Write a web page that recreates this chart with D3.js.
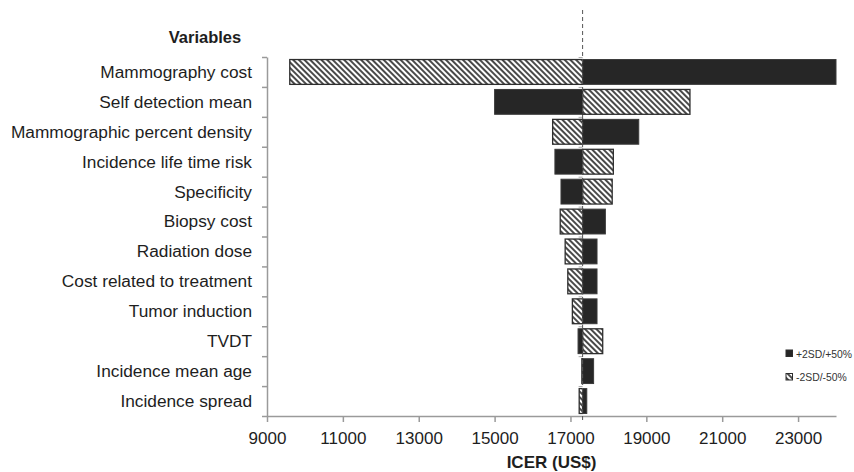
<!DOCTYPE html>
<html>
<head>
<meta charset="utf-8">
<script src="https://cdn.jsdelivr.net/npm/d3@7"></script>
<style>
  body { margin: 0; background: #fff; }
  svg { display: block; font-family: "Liberation Sans", Arial, sans-serif; }
</style>
</head>
<body>
<svg id="chart" width="854" height="472"></svg>
<script>
// Tornado chart data (ICER in US$)
const variables = [
  "Mammography cost", "Self detection mean", "Mammographic percent density",
  "Incidence life time risk", "Specificity", "Biopsy cost", "Radiation dose",
  "Cost related to treatment", "Tumor induction", "TVDT",
  "Incidence mean age", "Incidence spread"
];
const plusValues  = [24000, 15000, 18800, 16590, 16750, 17920, 17700, 17700, 17700, 17200, 17610, 17430];
const minusValues = [9600, 20150, 16530, 18130, 18100, 16730, 16860, 16930, 17050, 17850, 17300, 17230];
const baseIcer = 17320;
const xTicks = [9000, 11000, 13000, 15000, 17000, 19000, 21000, 23000];
const legendLabels = ["+2SD/+50%", "-2SD/-50%"];

const svg = d3.select("#chart");
const margin = { top: 57, right: 18, bottom: 56, left: 267 };
const width = 854, height = 472;

const x = d3.scaleLinear()
  .domain([9000, 24000])
  .range([margin.left, 836]);

const y = d3.scaleBand()
  .domain(variables)
  .range([margin.top, height - margin.bottom])
  .paddingInner(0.17)
  .paddingOuter(0.085);

// hatch pattern
const defs = svg.append("defs");
const pat = defs.append("pattern")
  .attr("id", "hatch")
  .attr("patternUnits", "userSpaceOnUse")
  .attr("width", 4)
  .attr("height", 4)
  .attr("patternTransform", "rotate(-45)");
pat.append("rect").attr("width", 4).attr("height", 4).attr("fill", "#fff");
pat.append("line")
  .attr("x1", 1).attr("y1", 0).attr("x2", 1).attr("y2", 4)
  .attr("stroke", "#4a4a4a").attr("stroke-width", 2);

// y axis with ticks on category boundaries
const yEdges = d3.scaleLinear().domain([0, variables.length]).range([margin.top, height - margin.bottom]);
const gY = svg.append("g")
  .attr("transform", `translate(${margin.left},0)`)
  .call(d3.axisLeft(yEdges).ticks(variables.length).tickSize(5).tickSizeOuter(0).tickFormat(""));
gY.selectAll("path, line").attr("stroke", "#9a9a9a").attr("stroke-width", 1.5);

// small ticks at the base value
const gBase = svg.append("g")
  .attr("transform", `translate(${x(baseIcer)},0)`)
  .call(d3.axisLeft(yEdges).ticks(variables.length).tickSize(4).tickSizeOuter(0).tickFormat(""));
gBase.select(".domain").remove();
gBase.selectAll("line").attr("stroke", "#aaa").attr("stroke-width", 1);

// category labels
svg.append("g")
  .selectAll("text")
  .data(variables)
  .join("text")
  .attr("x", 252)
  .attr("y", d => y(d) + y.bandwidth() / 2)
  .attr("dy", "0.34em")
  .attr("text-anchor", "end")
  .style("font-size", "17.3px")
  .style("fill", "#1e1e1e")
  .text(d => d);

svg.append("text")
  .attr("x", 205)
  .attr("y", 43)
  .attr("text-anchor", "middle")
  .style("font-size", "16.5px")
  .style("font-weight", "bold")
  .style("fill", "#1e1e1e")
  .text("Variables");

// bars
const rows = variables.map((v, i) => ({ name: v, plus: plusValues[i], minus: minusValues[i] }));

svg.append("g")
  .selectAll("rect")
  .data(rows)
  .join("rect")
  .attr("x", d => x(Math.min(baseIcer, d.minus)))
  .attr("y", d => y(d.name))
  .attr("width", d => Math.abs(x(d.minus) - x(baseIcer)))
  .attr("height", y.bandwidth())
  .attr("fill", "url(#hatch)")
  .attr("stroke", "#2e2e2e")
  .attr("stroke-width", 1.3);

svg.append("g")
  .selectAll("rect")
  .data(rows)
  .join("rect")
  .attr("x", d => x(Math.min(baseIcer, d.plus)))
  .attr("y", d => y(d.name))
  .attr("width", d => Math.abs(x(d.plus) - x(baseIcer)))
  .attr("height", y.bandwidth())
  .attr("fill", "#262626")
  .attr("stroke", "#3a3a3a")
  .attr("stroke-width", 1);

// x axis
const gX = svg.append("g")
  .attr("transform", `translate(0,${height - margin.bottom})`)
  .call(d3.axisBottom(x).tickValues(xTicks).tickSize(6).tickSizeOuter(0).tickPadding(10).tickFormat(d3.format("d")));
gX.selectAll("path, line").attr("stroke", "#9a9a9a").attr("stroke-width", 1.5);
gX.selectAll("text")
  .style("font-size", "17px")
  .style("fill", "#1e1e1e")
  .attr("font-family", null);

svg.append("text")
  .attr("x", (x.range()[0] + x.range()[1]) / 2)
  .attr("y", 468)
  .attr("text-anchor", "middle")
  .style("font-size", "17px")
  .style("font-weight", "bold")
  .style("fill", "#1e1e1e")
  .text("ICER (US$)");

// dashed base line
svg.append("line")
  .attr("x1", x(baseIcer)).attr("x2", x(baseIcer))
  .attr("y1", 10).attr("y2", 423)
  .attr("stroke", "#555")
  .attr("stroke-width", 1)
  .attr("stroke-dasharray", "4,3");

// legend
const legend = svg.append("g").attr("transform", "translate(786,350)");
const legendItems = legend.selectAll("g")
  .data(legendLabels)
  .join("g")
  .attr("transform", (d, i) => `translate(0,${i * 23.5})`);
legendItems.append("rect")
  .attr("width", 6.5)
  .attr("height", 6.5)
  .attr("fill", (d, i) => i === 0 ? "#262626" : "url(#hatch)")
  .attr("stroke", "#2e2e2e")
  .attr("stroke-width", 1);
legendItems.append("text")
  .attr("x", 10)
  .attr("y", 7.5)
  .style("font-size", "10.4px")
  .style("fill", "#333")
  .text(d => d);
</script>
</body>
</html>
